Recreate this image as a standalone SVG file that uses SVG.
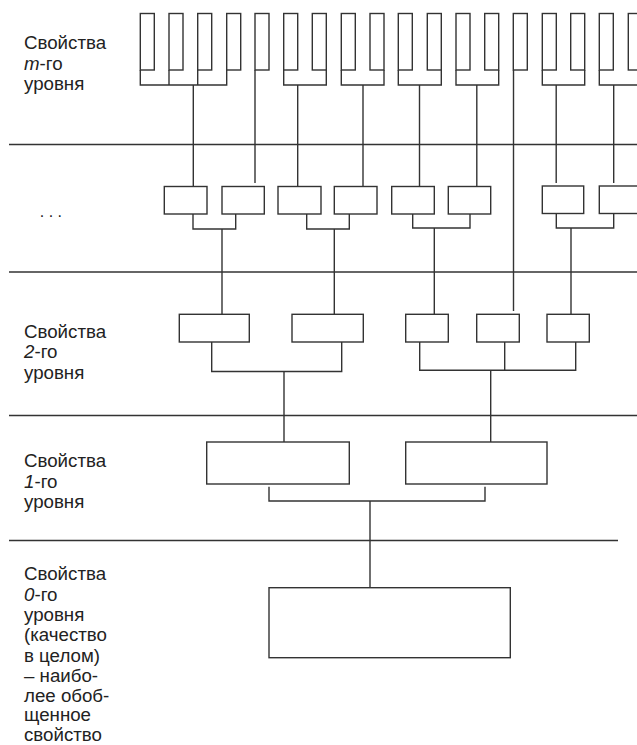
<svg xmlns="http://www.w3.org/2000/svg" width="637" height="745" viewBox="0 0 637 745">
<style>
.b{fill:#fff;stroke:#333;stroke-width:1.4}
.c line,.c polyline{stroke:#333;stroke-width:1.4;fill:none}
.t{font-family:"Liberation Sans",Arial,sans-serif;font-size:18.7px;fill:#222}
.i{font-style:italic}
</style>
<rect width="637" height="745" fill="#fff"/>
<g id="separators" class="c">
<line x1="9" y1="144.5" x2="637" y2="144.5"/>
<line x1="9" y1="272" x2="637" y2="272"/>
<line x1="9" y1="415.5" x2="637" y2="415.5"/>
<line x1="9" y1="540.5" x2="618" y2="540.5"/>
</g>
<g id="connectors" class="c">
<polyline points="140.3,70 140.3,85 226.7,85 226.7,70"/>
<line x1="169" y1="70" x2="169" y2="85"/>
<line x1="197.7" y1="70" x2="197.7" y2="85"/>
<line x1="193.3" y1="85" x2="193.3" y2="186.5"/>
<line x1="255" y1="70" x2="255" y2="183"/>
<polyline points="283.7,70 283.7,85 326.3,85 326.3,70"/>
<line x1="297.7" y1="85" x2="297.7" y2="186.5"/>
<polyline points="341.3,70 341.3,85 384,85 384,70"/>
<line x1="363" y1="85" x2="363" y2="186.5"/>
<polyline points="398.3,70 398.3,85 441.3,85 441.3,70"/>
<line x1="419.5" y1="85" x2="419.5" y2="186.5"/>
<polyline points="456,70 456,85 498.7,85 498.7,70"/>
<line x1="476.8" y1="85" x2="476.8" y2="186.5"/>
<line x1="513.5" y1="70" x2="513.5" y2="311"/>
<polyline points="542.3,70 542.3,85 584.7,85 584.7,70"/>
<line x1="556.2" y1="85" x2="556.2" y2="183"/>
<polyline points="599.3,70 599.3,85 642.3,85 642.3,70"/>
<line x1="613.7" y1="85" x2="613.7" y2="183"/>
<polyline points="193,214 193,229 235.7,229 235.7,214"/>
<line x1="222" y1="229" x2="222" y2="314.3"/>
<polyline points="306.7,214 306.7,229 349.3,229 349.3,214"/>
<line x1="334.3" y1="229" x2="334.3" y2="314.3"/>
<polyline points="412.7,214 412.7,228 470,228 470,214"/>
<line x1="434.3" y1="228" x2="434.3" y2="314.3"/>
<polyline points="556.3,214 556.3,228 613.7,228 613.7,214"/>
<line x1="571" y1="228" x2="571" y2="314.3"/>
<polyline points="211.7,342 211.7,371.5 341.7,371.5 341.7,342"/>
<line x1="284" y1="371.5" x2="284" y2="442"/>
<polyline points="419.7,342 419.7,370.3 575.7,370.3 575.7,342"/>
<line x1="504.7" y1="342" x2="504.7" y2="370.3"/>
<line x1="490.7" y1="370.3" x2="490.7" y2="442"/>
<polyline points="269,486.7 269,501 485,501 485,486.7"/>
<line x1="370" y1="501" x2="370" y2="587.7"/>
</g>
<g id="level-m">
<rect class="b" x="140.3" y="13.5" width="14" height="56.5"/>
<rect class="b" x="169" y="13.5" width="14" height="56.5"/>
<rect class="b" x="197.7" y="13.5" width="14" height="56.5"/>
<rect class="b" x="226.7" y="13.5" width="14" height="56.5"/>
<rect class="b" x="255" y="13.5" width="14" height="56.5"/>
<rect class="b" x="283.7" y="13.5" width="14" height="56.5"/>
<rect class="b" x="312.3" y="13.5" width="14" height="56.5"/>
<rect class="b" x="341.3" y="13.5" width="14" height="56.5"/>
<rect class="b" x="370" y="13.5" width="14" height="56.5"/>
<rect class="b" x="398.3" y="13.5" width="14" height="56.5"/>
<rect class="b" x="427.3" y="13.5" width="14" height="56.5"/>
<rect class="b" x="456" y="13.5" width="14" height="56.5"/>
<rect class="b" x="484.7" y="13.5" width="14" height="56.5"/>
<rect class="b" x="513.3" y="13.5" width="14" height="56.5"/>
<rect class="b" x="542.3" y="13.5" width="14" height="56.5"/>
<rect class="b" x="570.7" y="13.5" width="14" height="56.5"/>
<rect class="b" x="599.3" y="13.5" width="14" height="56.5"/>
<rect class="b" x="628.3" y="13.5" width="14" height="56.5"/>
</g>
<g id="level-m-1">
<rect class="b" x="164.3" y="186.5" width="42.7" height="27.5"/>
<rect class="b" x="222" y="186.5" width="42.3" height="27.5"/>
<rect class="b" x="278" y="186.5" width="43" height="27.5"/>
<rect class="b" x="334.3" y="186.5" width="42.7" height="27.5"/>
<rect class="b" x="391.7" y="186.5" width="42.6" height="27.5"/>
<rect class="b" x="448.3" y="186.5" width="42.4" height="27.5"/>
<rect class="b" x="542.3" y="186" width="41.4" height="27.5"/>
<rect class="b" x="599.3" y="186" width="42.7" height="27.5"/>
</g>
<g id="level-2">
<rect class="b" x="179.3" y="314.3" width="70" height="27.7"/>
<rect class="b" x="292" y="314.3" width="71.3" height="27.7"/>
<rect class="b" x="405.7" y="314.3" width="42.6" height="27.7"/>
<rect class="b" x="476.7" y="314.3" width="42.6" height="27.7"/>
<rect class="b" x="547" y="314.3" width="42.3" height="27.7"/>
</g>
<g id="level-1">
<rect class="b" x="206.7" y="442" width="142.6" height="42"/>
<rect class="b" x="405.7" y="442" width="141.3" height="42"/>
</g>
<g id="level-0">
<rect class="b" x="269" y="587.7" width="241.3" height="70"/>
</g>
<g id="labels" class="t">
<text x="24" y="49">Свойства</text>
<text x="24" y="69.5"><tspan class="i">m</tspan>-го</text>
<text x="24" y="90">уровня</text>
<text x="39.8" y="217.3" style="font-size:16px">. . .</text>
<text x="24" y="337.7">Свойства</text>
<text x="24" y="358.3"><tspan class="i">2</tspan>-го</text>
<text x="24" y="379">уровня</text>
<text x="24" y="467.3">Свойства</text>
<text x="24" y="488"><tspan class="i">1</tspan>-го</text>
<text x="24" y="508.3">уровня</text>
<text x="24" y="580">Свойства</text>
<text x="24" y="600.5"><tspan class="i">0</tspan>-го</text>
<text x="24" y="621">уровня</text>
<text x="24" y="641.3">(качество</text>
<text x="24" y="661.5">в целом)</text>
<text x="24" y="681.5">– наибо-</text>
<text x="24" y="701.5">лее обоб-</text>
<text x="24" y="721.3">щенное</text>
<text x="24" y="741">свойство</text>
</g>
</svg>
